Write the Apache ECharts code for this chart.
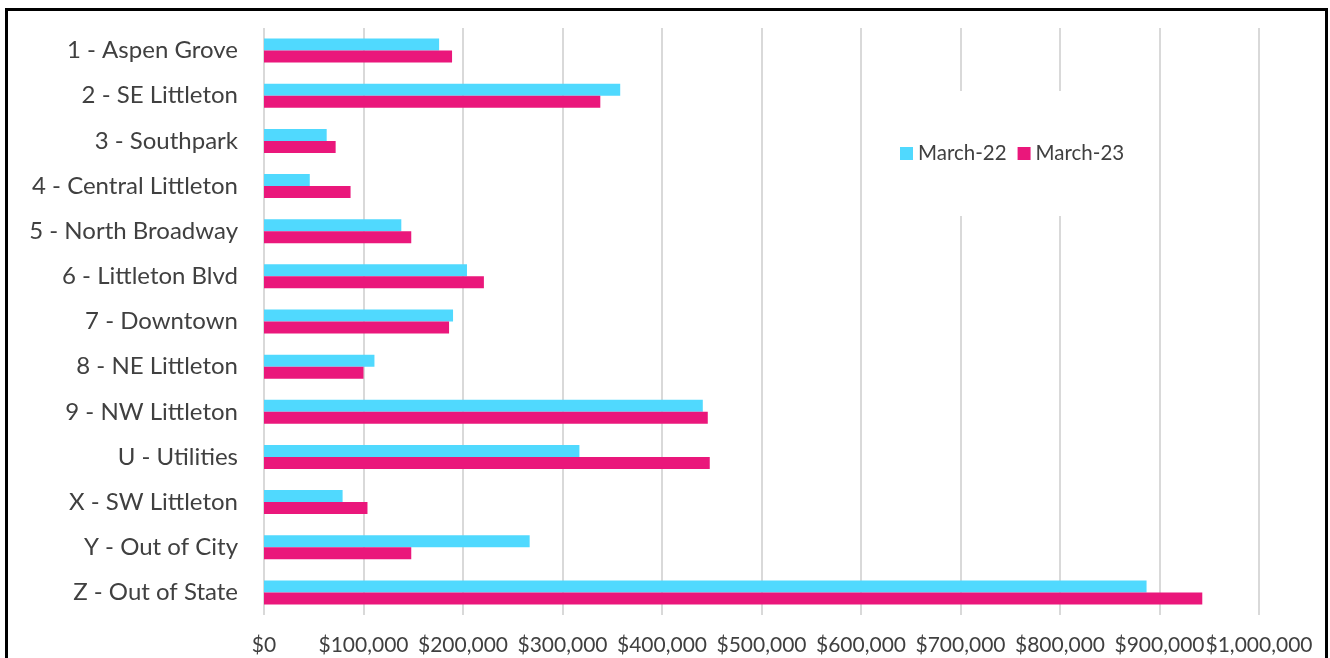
<!DOCTYPE html>
<html>
<head>
<meta charset="utf-8">
<script src="https://cdn.jsdelivr.net/npm/echarts@6/dist/echarts.min.js"></script>
<style>
html,body{margin:0;padding:0;background:#fff;}
#c{width:1330px;height:658px;}
</style>
</head>
<body>
<div id="c"></div>
<script>
const categories = ["1 - Aspen Grove","2 - SE Littleton","3 - Southpark","4 - Central Littleton","5 - North Broadway","6 - Littleton Blvd","7 - Downtown","8 - NE Littleton","9 - NW Littleton","U - Utilities","X - SW Littleton","Y - Out of City","Z - Out of State"];
const march22 = [176000, 358000, 63000, 46000, 138000, 204000, 190000, 111000, 441000, 317000, 79000, 267000, 887000];
const march23 = [189000, 338000, 72000, 87000, 148000, 221000, 186000, 100000, 446000, 448000, 104000, 148000, 943000];
const seriesNames = ["March-22", "March-23"];

const chart = echarts.init(document.getElementById('c'));
const fmt = v => '$' + v.toLocaleString('en-US');
chart.setOption({
  animation: false,
  textStyle: {fontFamily: 'Lato'},
  grid: {left: 264, right: 71, top: 28, bottom: 43},
  legend: {
    data: seriesNames,
    left: 870, top: 91,
    padding: [52, 30, 52, 30],
    backgroundColor: '#fff',
    itemWidth: 13, itemHeight: 13, itemGap: 11,
    icon: 'rect',
    textStyle: {fontSize: 20.5, color: '#404040', fontFamily: 'Lato'}
  },
  xAxis: {
    type: 'value', min: 0, max: 1000000, interval: 100000,
    axisLine: {show: false}, axisTick: {show: false},
    splitLine: {lineStyle: {color: '#d9d9d9', width: 2}},
    axisLabel: {formatter: fmt, fontSize: 21, color: '#404040', margin: 20}
  },
  yAxis: {
    type: 'category', data: categories, inverse: true,
    axisLine: {show: false}, axisTick: {show: false},
    axisLabel: {fontSize: 24, color: '#404040', margin: 26}
  },
  series: [
    {name: seriesNames[0], type: 'bar', data: march22, barWidth: 12, barGap: '0%', itemStyle: {color: '#50D9FE'}},
    {name: seriesNames[1], type: 'bar', data: march23, barWidth: 12, barGap: '0%', itemStyle: {color: '#EA177B'}}
  ],
  graphic: [{type: 'rect', z: 100, silent: true, shape: {x: 6.5, y: 9.5, width: 1320, height: 700}, style: {fill: 'none', stroke: '#000', lineWidth: 3}}]
});
</script>
</body>
</html>
